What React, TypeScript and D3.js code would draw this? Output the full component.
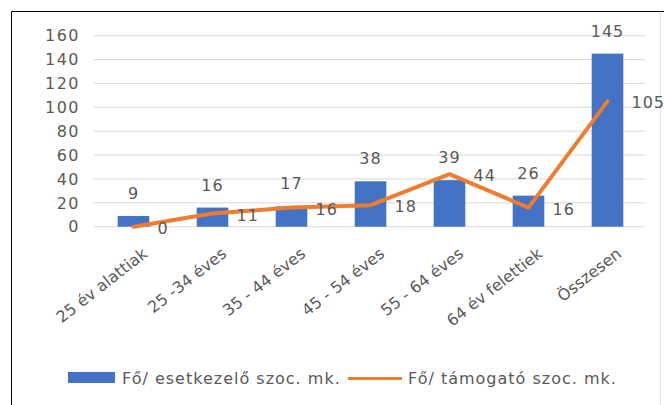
import React from "react";
import * as d3 from "d3";

// categories and the two series
const categories = [
  "25 év alattiak",
  "25 -34 éves",
  "35 - 44 éves",
  "45 - 54 éves",
  "55 - 64 éves",
  "64 év felettiek",
  "Összesen",
];
const caseManagerValues = [9, 16, 17, 38, 39, 26, 145];
const supportValues = [0, 11, 16, 18, 44, 16, 105];
const yTicks = [0, 20, 40, 60, 80, 100, 120, 140, 160];
const seriesNames = ["Fő/ esetkezelő szoc. mk.", "Fő/ támogató szoc. mk."];

const W = 664;
const H = 405;
const barCol = "#4472C4";
const lineCol = "#ED7D31";
const textCol = "#595959";
const font = "'DejaVu Sans', sans-serif";

export default function App() {
  const margin = { left: 94, right: 17, top: 35.7, bottom: 178.3 };

  const x = d3
    .scaleBand<string>()
    .domain(categories)
    .range([margin.left, W - margin.right])
    .paddingInner(0.6)
    .paddingOuter(0.3);

  const y = d3
    .scaleLinear()
    .domain([0, 160])
    .range([H - margin.bottom, margin.top]);

  const cx = (c: string) => (x(c) ?? 0) + x.bandwidth() / 2;

  const line = d3
    .line<number>()
    .x((_, i) => cx(categories[i]))
    .y((d) => y(d));

  return (
    <svg
      width={W}
      height={H}
      style={{ position: "absolute", left: 0, top: 0, background: "#fff" }}
      fontFamily={font}
    >
      {/* frame */}
      <line x1={11.5} y1={11.5} x2={W} y2={11.5} stroke="#000" />
      <line x1={11.5} y1={11.5} x2={11.5} y2={H} stroke="#000" />
      <line x1={660.5} y1={11.5} x2={660.5} y2={H} stroke="#e4e4e4" />

      {/* grid + y labels */}
      {yTicks.map((t) => (
        <g key={t}>
          <line
            x1={margin.left}
            x2={645}
            y1={y(t)}
            y2={y(t)}
            stroke="#d9d9d9"
            strokeWidth={1}
          />
          <text
            x={80}
            y={y(t)}
            dy="0.36em"
            textAnchor="end"
            fontSize={16}
            letterSpacing={1.5}
            fill={textCol}
          >
            {t}
          </text>
        </g>
      ))}

      {/* bars */}
      {caseManagerValues.map((v, i) => (
        <rect
          key={i}
          x={x(categories[i])}
          y={y(v)}
          width={x.bandwidth()}
          height={y(0) - y(v)}
          fill={barCol}
        />
      ))}

      {/* line */}
      <path
        d={line(supportValues) ?? ""}
        fill="none"
        stroke={lineCol}
        strokeWidth={4}
        strokeLinejoin="round"
        strokeLinecap="round"
      />

      {/* bar labels */}
      {caseManagerValues.map((v, i) => (
        <text
          key={i}
          x={cx(categories[i])}
          y={y(v) - 17}
          textAnchor="middle"
          fontSize={16}
          letterSpacing={1}
          fill={textCol}
        >
          {v}
        </text>
      ))}

      {/* line labels */}
      {supportValues.map((v, i) => (
        <text
          key={i}
          x={cx(categories[i]) + 24}
          y={y(v) + 7}
          fontSize={16}
          letterSpacing={1}
          fill={textCol}
        >
          {v}
        </text>
      ))}

      {/* x labels */}
      {categories.map((c) => (
        <text
          key={c}
          transform={`translate(${cx(c) + 15},${y(0) + 29}) rotate(-38)`}
          textAnchor="end"
          fontSize={16}
          fill={textCol}
        >
          {c}
        </text>
      ))}

      {/* legend */}
      <rect x={68} y={372} width={47} height={11} fill={barCol} />
      <text x={122} y={384} fontSize={16} letterSpacing={1} fill={textCol}>
        {seriesNames[0]}
      </text>
      <line x1={348} x2={402} y1={378.5} y2={378.5} stroke={lineCol} strokeWidth={3} />
      <text x={408} y={384} fontSize={16} letterSpacing={1} fill={textCol}>
        {seriesNames[1]}
      </text>
    </svg>
  );
}
